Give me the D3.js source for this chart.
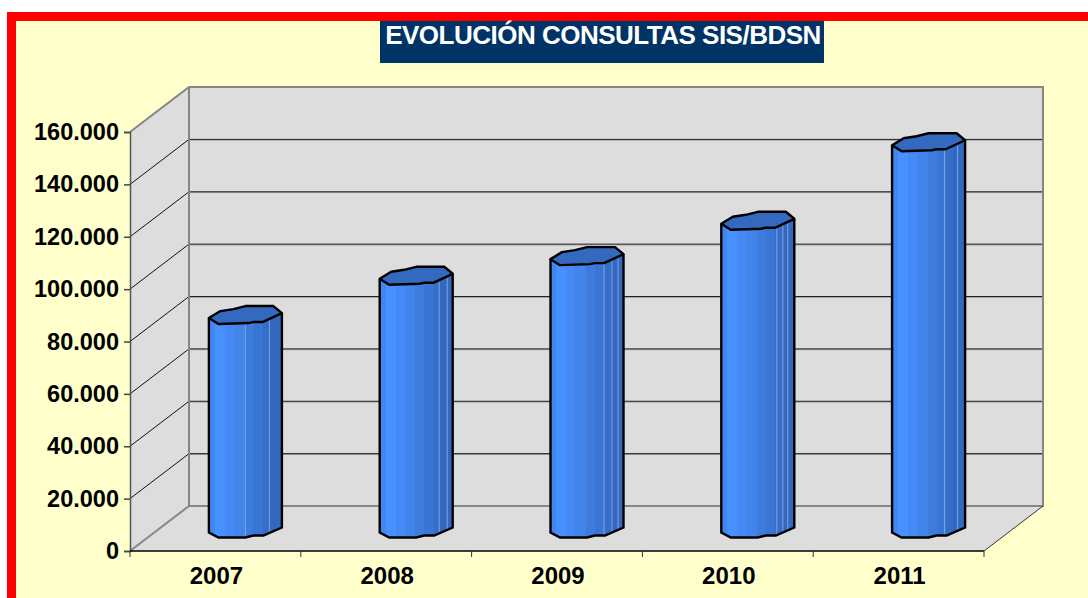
<!DOCTYPE html>
<html>
<head>
<meta charset="utf-8">
<script src="https://cdn.jsdelivr.net/npm/d3@7"></script>
<style>
  html, body { margin: 0; padding: 0; background: #fff; }
  svg { display: block; }
  text { font-family: "Liberation Sans", Arial, sans-serif; font-weight: bold; }
</style>
</head>
<body>
<script>
const years = ["2007", "2008", "2009", "2010", "2011"];
const consultas = [81500, 96500, 104000, 117500, 147500];
const yTicks = [0, 20000, 40000, 60000, 80000, 100000, 120000, 140000, 160000];
const titulo = "EVOLUCIÓN CONSULTAS SIS/BDSN";

const width = 1088, height = 598;
const front = { left: 130, right: 984, bottom: 551, top: 132 };
const depth = { x: 59, y: -45 };

const svg = d3.select("body").append("svg")
  .attr("width", width)
  .attr("height", height);

// Marco y fondo
svg.append("rect").attr("x", 7).attr("y", 12).attr("width", width - 7).attr("height", height - 12).attr("fill", "#ff0000");
svg.append("rect").attr("x", 16).attr("y", 21).attr("width", width - 16).attr("height", height - 21).attr("fill", "#ffffcc");

// Titulo
svg.append("rect").attr("x", 380).attr("y", 21).attr("width", 444).attr("height", 42).attr("fill", "#003366");
svg.append("text")
  .attr("x", 603).attr("y", 43.5)
  .attr("text-anchor", "middle")
  .attr("font-size", 26)
  .attr("letter-spacing", -0.5)
  .attr("fill", "#fff")
  .text(titulo);

const x = d3.scaleBand().domain(years).range([front.left, front.right]).padding(0);
const y = d3.scaleLinear().domain([0, 160000]).range([front.bottom, front.top]);
const line = d3.line();

// Paredes y suelo
const pared = "#dddddd";
svg.append("polygon")
  .attr("points", [[front.left, front.top], [front.left + depth.x, front.top + depth.y], [front.left + depth.x, front.bottom + depth.y], [front.left, front.bottom]].join(" "))
  .attr("fill", pared);
svg.append("rect")
  .attr("x", front.left + depth.x).attr("y", front.top + depth.y)
  .attr("width", front.right - front.left)
  .attr("height", front.bottom - front.top)
  .attr("fill", pared);
svg.append("polygon")
  .attr("points", [[front.left, front.bottom], [front.right, front.bottom], [front.right + depth.x, front.bottom + depth.y], [front.left + depth.x, front.bottom + depth.y]].join(" "))
  .attr("fill", pared);

// Rejilla
yTicks.filter(d => d > 0 && d < 160000).forEach(d => {
  svg.append("path")
    .attr("d", line([[front.left, y(d)], [front.left + depth.x, y(d) + depth.y]]))
    .attr("fill", "none").attr("stroke", "#111").attr("stroke-width", 1);
  svg.append("path")
    .attr("d", line([[front.left + depth.x, y(d) + depth.y + 0.8], [front.right + depth.x, y(d) + depth.y + 0.8]]))
    .attr("fill", "none").attr("stroke", "#999").attr("stroke-width", 1);
  svg.append("path")
    .attr("d", line([[front.left + depth.x, y(d) + depth.y], [front.right + depth.x, y(d) + depth.y]]))
    .attr("fill", "none").attr("stroke", "#222").attr("stroke-width", 1);
});

// Bordes grises
const bordes = [
  [[front.left, front.top], [front.left + depth.x, front.top + depth.y], [front.right + depth.x, front.top + depth.y], [front.right + depth.x, front.bottom + depth.y], [front.left + depth.x, front.bottom + depth.y], [front.left + depth.x, front.top + depth.y]],
  [[front.left, front.bottom], [front.left + depth.x, front.bottom + depth.y]]
];
bordes.forEach(b => {
  svg.append("path").attr("d", line(b)).attr("fill", "none").attr("stroke", "#868686").attr("stroke-width", 2);
});
svg.append("path")
  .attr("d", line([[front.right, front.bottom], [front.right + depth.x, front.bottom + depth.y]]))
  .attr("fill", "none").attr("stroke", "#333").attr("stroke-width", 1);

// Degradado por bandas de las columnas
const bandas = [
  [0, "#4187f4"], [0.08, "#4790ff"], [0.22, "#4489f5"], [0.34, "#4184ea"],
  [0.49, "#3d7cdd"], [0.61, "#3975d2"], [0.74, "#366dc6"], [0.83, "#3468bf"], [1, "#3468bf"]
];
const grad = svg.append("defs").append("linearGradient").attr("id", "cara");
bandas.slice(0, -1).forEach((s, i) => {
  grad.append("stop").attr("offset", s[0]).attr("stop-color", s[1]);
  grad.append("stop").attr("offset", bandas[i + 1][0]).attr("stop-color", s[1]);
});

// Contorno irregular del cilindro, relativo al centro de cada columna
const tapaAtras = [[-36.5, 3], [-25, -4], [-12, -6], [0, -9], [28, -9], [36.5, -2]];
const tapaDelante = [[36.5, -2], [17, 7], [8, 7], [3, 8], [-27, 9], [-36.5, 3]];
const base = [[36.5, -1], [18, 7], [8, 7], [0, 9], [-27, 9], [-36.5, 4]];
const bordeBase = d3.scaleLinear().domain(base.map(p => p[0])).range(base.map(p => p[1]));

// Filos claros de cada cilindro (desplazamiento desde el centro)
const filos = [[0, 24], [23, 31], [17, 25, 31], [19, 25, 30], [16, 29]];

const columnas = svg.append("g").selectAll("g")
  .data(years.map((d, i) => ({ year: d, value: consultas[i], filos: filos[i] })))
  .join("g");

columnas.each(function (d) {
  const g = d3.select(this);
  const cx = x(d.year) + x.bandwidth() / 2 + depth.x / 2 + 0.5;
  const yTop = y(d.value) + depth.y / 2;
  const yBase = y(0) + depth.y / 2;
  const mover = (pts, py) => pts.map(p => [cx + p[0], py + p[1]]);

  const delante = mover(tapaDelante, yTop);
  const cuerpo = delante.concat(mover(base.slice().reverse(), yBase));
  g.append("path").attr("d", line(cuerpo) + "Z").attr("fill", "url(#cara)").attr("stroke", "none");

  d.filos.forEach(dx => {
    g.append("line")
      .attr("x1", cx + dx).attr("x2", cx + dx)
      .attr("y1", yTop + 2).attr("y2", yBase + bordeBase(dx))
      .attr("stroke", "#7da4e6").attr("stroke-width", 1);
  });

  const contorno = [delante[delante.length - 1]].concat(mover(base.slice().reverse(), yBase));
  g.append("path")
    .attr("d", line(contorno) + "L" + (cx + 36.5) + "," + (yTop - 2))
    .attr("fill", "none").attr("stroke", "#000").attr("stroke-width", 2.4);

  g.append("path")
    .attr("d", line(mover(tapaAtras, yTop).concat(delante.slice(1))) + "Z")
    .attr("fill", "#3469c0").attr("stroke", "#000").attr("stroke-width", 2.4)
    .attr("stroke-linejoin", "round");
});

// Ejes
const yAxis = d3.axisLeft(y)
  .tickValues(yTicks)
  .tickSize(6)
  .tickPadding(5)
  .tickFormat(d => d3.format(",")(d).replace(/,/g, "."));
const gy = svg.append("g").attr("transform", `translate(${front.left},0)`).call(yAxis);
gy.select(".domain").attr("stroke", "#555").attr("stroke-width", 1.5);
gy.selectAll(".tick line").attr("stroke", "#444").attr("stroke-width", 1.5);
gy.selectAll("text").attr("font-size", 23.5).attr("font-family", null).attr("fill", "#000");

const xAxis = d3.axisBottom(x).tickSize(0).tickPadding(16);
const gx = svg.append("g").attr("transform", `translate(1,${front.bottom})`).call(xAxis);
gx.select(".domain").attr("stroke", "none");
gx.selectAll("text").attr("font-size", 24).attr("font-family", null).attr("fill", "#000");

svg.append("path")
  .attr("d", line([[front.left, front.bottom], [front.right, front.bottom]]))
  .attr("stroke", "#000").attr("stroke-width", 1.5);

// Marcas entre categorias
years.concat("fin").forEach((d, i) => {
  const px = front.left + i * x.step();
  svg.append("line").attr("x1", px).attr("x2", px).attr("y1", front.bottom).attr("y2", front.bottom + 6).attr("stroke", "#333");
});
</script>
</body>
</html>
